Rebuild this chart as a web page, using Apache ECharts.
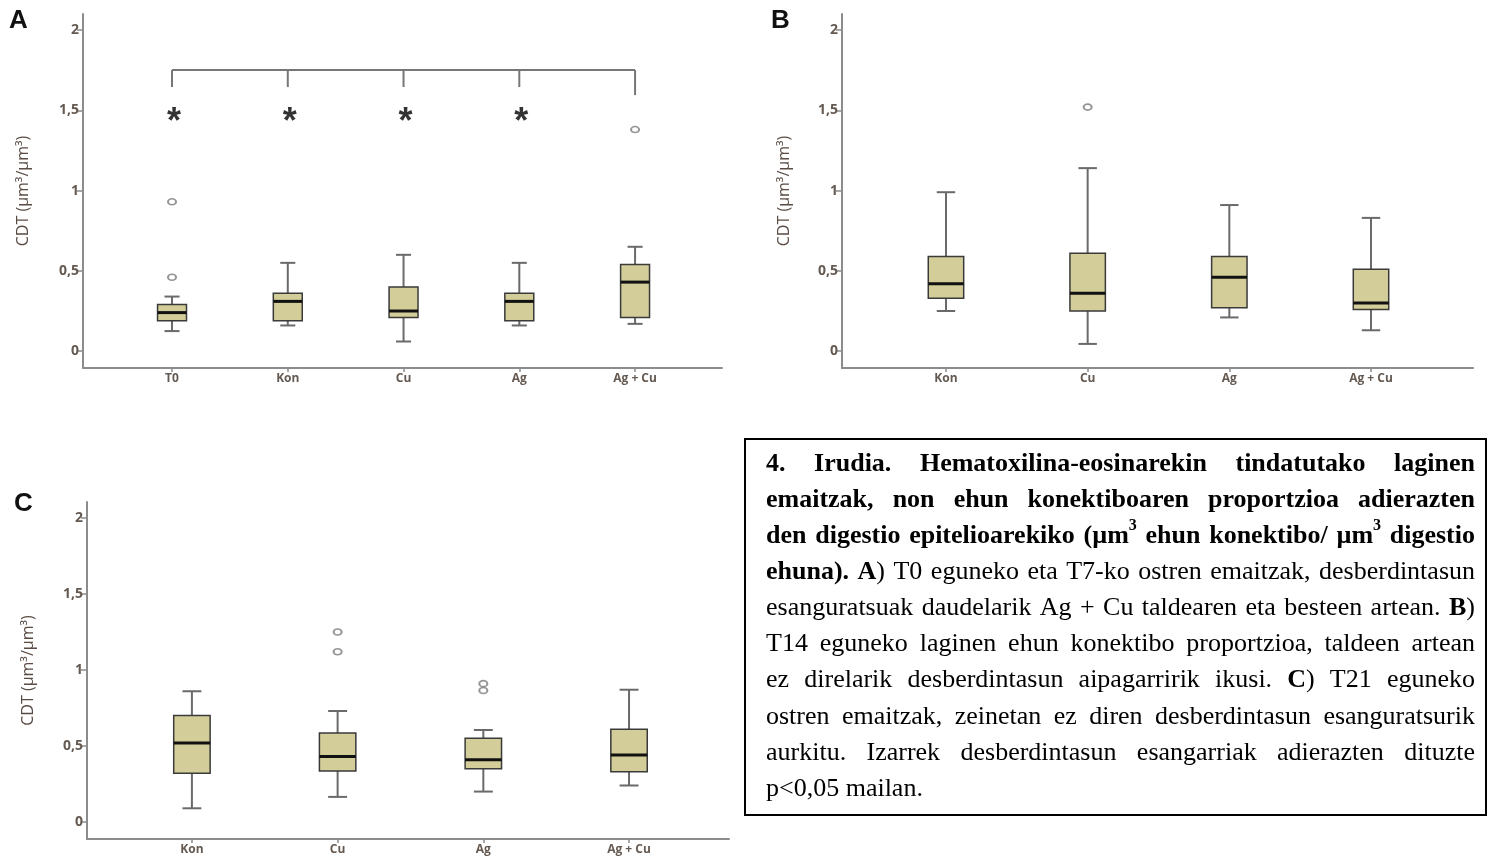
<!DOCTYPE html>
<html>
<head>
<meta charset="utf-8">
<script src="https://cdn.jsdelivr.net/npm/echarts@6/dist/echarts.min.js"></script>
<style>
  html, body { margin: 0; padding: 0; background: #fff; }
  #chart { width: 1487px; height: 860px; }
</style>
</head>
<body>
<div id="chart"></div>
<script>
// panel A: T0 and T7
const catsA = ['T0', 'Kon', 'Cu', 'Ag', 'Ag + Cu'];
const minA = [0.125, 0.16, 0.06, 0.16, 0.17];
const q1A = [0.19, 0.19, 0.21, 0.19, 0.21];
const medA = [0.24, 0.31, 0.25, 0.31, 0.43];
const q3A = [0.29, 0.36, 0.40, 0.36, 0.54];
const maxA = [0.34, 0.55, 0.60, 0.55, 0.65];
const outA = [[0, 0.93], [0, 0.46], [4, 1.38]];
const starsA = [0, 1, 2, 3];
const starY = 1.465;
const bracketX = [0, 1, 2, 3, 4];
const bracketTop = 1.751;
const bracketDrop = [1.645, 1.645, 1.645, 1.645, 1.595];

// panel B: T14
const catsB = ['Kon', 'Cu', 'Ag', 'Ag + Cu'];
const minB = [0.25, 0.045, 0.21, 0.13];
const q1B = [0.33, 0.25, 0.27, 0.26];
const medB = [0.42, 0.36, 0.46, 0.30];
const q3B = [0.59, 0.61, 0.59, 0.51];
const maxB = [0.99, 1.14, 0.91, 0.83];
const outB = [[1, 1.52]];

// panel C: T21
const catsC = ['Kon', 'Cu', 'Ag', 'Ag + Cu'];
const minC = [0.09, 0.165, 0.20, 0.24];
const q1C = [0.32, 0.335, 0.35, 0.33];
const medC = [0.52, 0.43, 0.41, 0.44];
const q3C = [0.70, 0.585, 0.55, 0.61];
const maxC = [0.86, 0.73, 0.605, 0.87];
const outC = [[1, 1.25], [1, 1.12], [2, 0.91], [2, 0.865]];

const yTicks = [0, 0.5, 1, 1.5, 2];
const yName = 'CDT (µm³/µm³)';

const captionLines = [
  [['b', '4. Irudia. Hematoxilina-eosinarekin tindatutako laginen']],
  [['b', 'emaitzak, non ehun konektiboaren proportzioa adierazten']],
  [['b', 'den digestio epitelioarekiko (µm'], ['bs', '3'], ['b', ' ehun konektibo/ µm'], ['bs', '3'], ['b', ' digestio']],
  [['b', 'ehuna). A'], ['r', ') T0 eguneko eta T7-ko ostren emaitzak, desberdintasun']],
  [['r', 'esanguratsuak daudelarik Ag + Cu taldearen eta besteen artean. '], ['b', 'B'], ['r', ')']],
  [['r', 'T14 eguneko laginen ehun konektibo proportzioa, taldeen artean']],
  [['r', 'ez direlarik desberdintasun aipagarririk ikusi. '], ['b', 'C'], ['r', ') T21 eguneko']],
  [['r', 'ostren emaitzak, zeinetan ez diren desberdintasun esanguratsurik']],
  [['r', 'aurkitu. Izarrek desberdintasun esangarriak adierazten dituzte']],
  [['r', 'p<0,05 mailan.']]
];

const BOX_FILL = '#d3ce99';
const AXIS_GRAY = '#8c8c8c';
const LABEL_COLOR = '#655a52';

function boxData(mins, q1s, meds, q3s, maxs) {
  return mins.map((v, i) => [i, v, q1s[i], meds[i], q3s[i], maxs[i]]);
}

function renderBox(params, api) {
  const x = api.value(0);
  const lo = api.coord([x, api.value(1)]);
  const q1 = api.coord([x, api.value(2)]);
  const md = api.coord([x, api.value(3)]);
  const q3 = api.coord([x, api.value(4)]);
  const hi = api.coord([x, api.value(5)]);
  const band = api.size([1, 0])[0];
  const bw = band * 0.25;
  const cw = band * 0.13;
  const cx = lo[0];
  const whisk = { stroke: '#6a6a6a', lineWidth: 2 };
  return {
    type: 'group',
    children: [
      { type: 'line', shape: { x1: cx, y1: hi[1], x2: cx, y2: q3[1] }, style: whisk },
      { type: 'line', shape: { x1: cx, y1: q1[1], x2: cx, y2: lo[1] }, style: whisk },
      { type: 'line', shape: { x1: cx - cw / 2, y1: hi[1], x2: cx + cw / 2, y2: hi[1] }, style: whisk },
      { type: 'line', shape: { x1: cx - cw / 2, y1: lo[1], x2: cx + cw / 2, y2: lo[1] }, style: whisk },
      { type: 'rect', shape: { x: cx - bw / 2, y: q3[1], width: bw, height: q1[1] - q3[1] },
        style: { fill: BOX_FILL, stroke: '#3a3a3a', lineWidth: 1.5 } },
      { type: 'line', shape: { x1: cx - bw / 2, y1: md[1], x2: cx + bw / 2, y2: md[1] },
        style: { stroke: '#111', lineWidth: 3 } }
    ]
  };
}

function renderDrop(params, api) {
  const top = api.coord([api.value(0), api.value(1)]);
  const bot = api.coord([api.value(0), api.value(2)]);
  return { type: 'line', shape: { x1: top[0], y1: top[1], x2: bot[0], y2: bot[1] },
    style: { stroke: '#777', lineWidth: 2 } };
}

function makeXAxis(idx, cats, min, max) {
  return {
    type: 'value', gridIndex: idx, min: min, max: max,
    axisLine: { show: true, onZero: false, lineStyle: { color: AXIS_GRAY, width: 2 } },
    axisTick: { show: true, customValues: cats.map((c, i) => i), length: 4, lineStyle: { color: AXIS_GRAY, width: 1.5 } },
    axisLabel: { customValues: cats.map((c, i) => i), formatter: v => cats[Math.round(v)] || '',
      color: LABEL_COLOR, fontSize: 12, fontWeight: 'bold', fontFamily: 'Open Sans', margin: 5 },
    splitLine: { show: false }
  };
}

function makeYAxis(idx, min, max, gap) {
  return {
    type: 'value', gridIndex: idx, min: min, max: max,
    name: yName, nameLocation: 'middle', nameGap: gap,
    nameTextStyle: { color: '#5a4c44', fontSize: 16, fontFamily: 'Open Sans' },
    axisLine: { show: true, onZero: false, lineStyle: { color: AXIS_GRAY, width: 2 } },
    axisTick: { show: true, customValues: yTicks, length: 6, lineStyle: { color: AXIS_GRAY, width: 1.5 } },
    axisLabel: { customValues: yTicks, formatter: v => String(v).replace('.', ','),
      color: LABEL_COLOR, fontSize: 14, fontWeight: 'bold', fontFamily: 'Open Sans', margin: 4 },
    splitLine: { show: false }
  };
}

function outlierSeries(idx, data) {
  return {
    type: 'scatter', xAxisIndex: idx, yAxisIndex: idx, data: data,
    symbol: 'circle', symbolSize: [8, 6],
    itemStyle: { color: '#fff', borderColor: '#7a7a7a', borderWidth: 1.8 },
    silent: true
  };
}

// justified caption, laid out word by word
const measureCtx = document.createElement('canvas').getContext('2d');
const CAP_FONT = 'Liberation Serif';
function runFont(kind) {
  const bold = kind === 'b' || kind === 'bs';
  const size = kind === 'bs' ? 16 : 26;
  return { bold, size, css: (bold ? 'bold ' : '') + size + 'px "' + CAP_FONT + '"' };
}
function captionGraphics(left, right, firstY, step) {
  const out = [];
  const width = right - left;
  captionLines.forEach((line, li) => {
    const words = [[]];
    line.forEach(([kind, text]) => {
      text.split(' ').forEach((piece, pi) => {
        if (pi > 0) words.push([]);
        if (piece) words[words.length - 1].push([kind, piece]);
      });
    });
    const clean = words.filter(w => w.length);
    const widths = clean.map(w => w.reduce((s, [k, t]) => {
      measureCtx.font = runFont(k).css;
      return s + measureCtx.measureText(t).width;
    }, 0));
    const total = widths.reduce((a, b) => a + b, 0);
    const last = li === captionLines.length - 1;
    measureCtx.font = runFont('r').css;
    const gap = last ? measureCtx.measureText(' ').width : (width - total) / (clean.length - 1);
    const y = firstY + step * li;
    let x = left;
    clean.forEach((w, wi) => {
      let rx = x;
      w.forEach(([k, t]) => {
        const f = runFont(k);
        measureCtx.font = f.css;
        out.push({
          type: 'text', x: rx, y: k === 'bs' ? y - 10 : y, silent: true,
          style: { text: t, fontFamily: CAP_FONT, fontSize: f.size, fontWeight: f.bold ? 'bold' : 'normal',
            fill: '#000', align: 'left', verticalAlign: 'middle' }
        });
        rx += measureCtx.measureText(t).width;
      });
      x += widths[wi] + gap;
    });
  });
  return out;
}

const chart = echarts.init(document.getElementById('chart'), null, { renderer: 'canvas' });

const letterStyle = { fontFamily: 'Liberation Sans', fontSize: 26, fontWeight: 'bold', fill: '#111' };

const option = {
  backgroundColor: '#fff',
  animation: false,
  grid: [
    { left: 83, right: 765, top: 14, bottom: 492 },
    { left: 842, right: 14, top: 14, bottom: 492 },
    { left: 87, right: 758, top: 502, bottom: 21 }
  ],
  xAxis: [
    makeXAxis(0, catsA, -0.769, 4.751),
    makeXAxis(1, catsB, -0.734, 3.72),
    makeXAxis(2, catsC, -0.72, 3.686)
  ],
  yAxis: [
    makeYAxis(0, -0.105, 2.1, 52),
    makeYAxis(1, -0.105, 2.1, 50),
    makeYAxis(2, -0.112, 2.105, 51)
  ],
  series: [
    { type: 'custom', xAxisIndex: 0, yAxisIndex: 0, renderItem: renderBox,
      data: boxData(minA, q1A, medA, q3A, maxA), encode: { x: 0, y: [1, 2, 3, 4, 5] }, silent: true },
    { type: 'custom', xAxisIndex: 1, yAxisIndex: 1, renderItem: renderBox,
      data: boxData(minB, q1B, medB, q3B, maxB), encode: { x: 0, y: [1, 2, 3, 4, 5] }, silent: true },
    { type: 'custom', xAxisIndex: 2, yAxisIndex: 2, renderItem: renderBox,
      data: boxData(minC, q1C, medC, q3C, maxC), encode: { x: 0, y: [1, 2, 3, 4, 5] }, silent: true },
    outlierSeries(0, outA),
    outlierSeries(1, outB),
    outlierSeries(2, outC),
    { type: 'line', xAxisIndex: 0, yAxisIndex: 0, symbol: 'none', silent: true,
      data: [[bracketX[0], bracketTop], [bracketX[bracketX.length - 1], bracketTop]],
      lineStyle: { color: '#777', width: 2 } },
    { type: 'custom', xAxisIndex: 0, yAxisIndex: 0, renderItem: renderDrop, silent: true,
      data: bracketX.map((x, i) => [x, bracketTop, bracketDrop[i]]), encode: { x: 0, y: [1, 2] } },
    { type: 'scatter', xAxisIndex: 0, yAxisIndex: 0, symbolSize: 1, silent: true,
      itemStyle: { color: 'rgba(0,0,0,0)' },
      data: starsA.map(x => [x, starY]),
      label: { show: true, position: 'inside', formatter: '*', color: '#000', fontSize: 36,
        fontWeight: 'bold', fontFamily: 'Liberation Sans', offset: [2, 7] } }
  ],
  graphic: [
    { type: 'text', x: 9, y: 8, silent: true, style: Object.assign({ text: 'A' }, letterStyle) },
    { type: 'text', x: 771, y: 8, silent: true, style: Object.assign({ text: 'B' }, letterStyle) },
    { type: 'text', x: 14, y: 491, silent: true, style: Object.assign({ text: 'C' }, letterStyle) },
    { type: 'rect', silent: true, shape: { x: 745, y: 439, width: 741, height: 376 },
      style: { fill: 'none', stroke: '#000', lineWidth: 2 } }
  ].concat(captionGraphics(766, 1475, 464, 36.1))
};

chart.setOption(option);
</script>
</body>
</html>
